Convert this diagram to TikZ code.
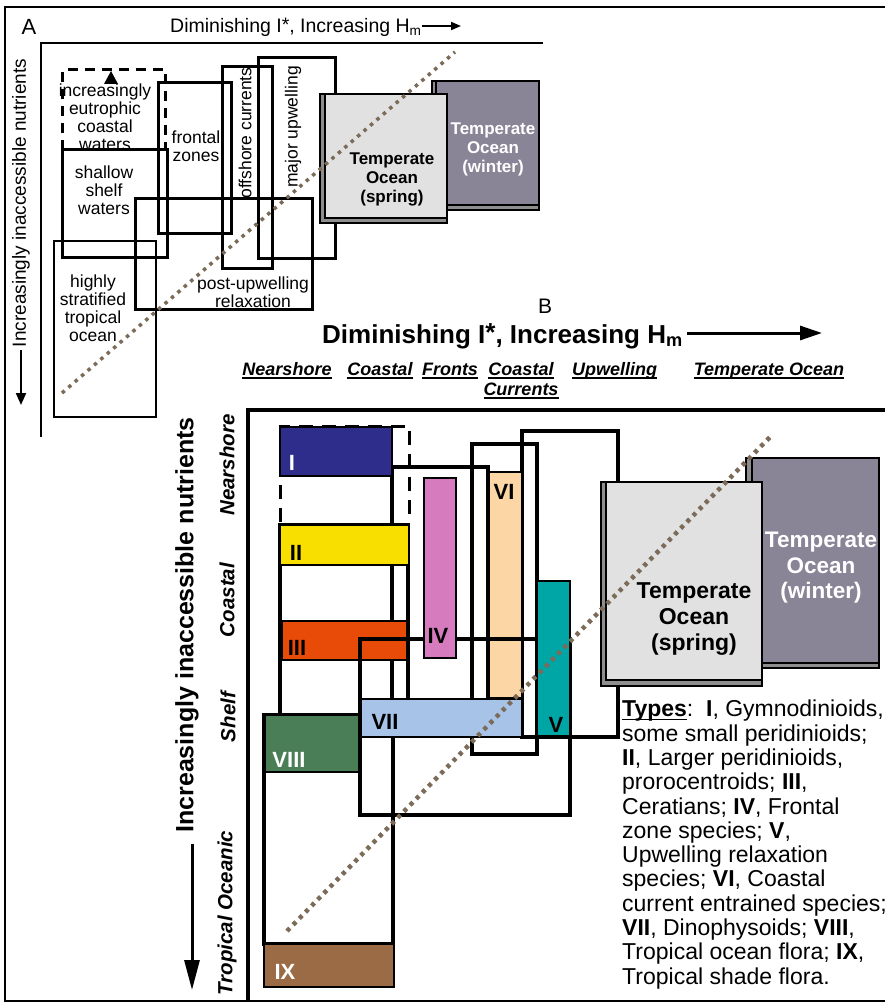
\documentclass[tikz,border=0pt]{standalone}
\usepackage{fontspec}
\setmainfont{Liberation Sans}
\usetikzlibrary{arrows.meta}

\definecolor{tyI}{HTML}{2E2D8C}
\definecolor{tyII}{HTML}{F9DF00}
\definecolor{tyIII}{HTML}{E84A08}
\definecolor{tyIV}{HTML}{D67BBD}
\definecolor{tyV}{HTML}{00A5A6}
\definecolor{tyVI}{HTML}{FDD6A5}
\definecolor{tyVII}{HTML}{A8C3E8}
\definecolor{tyVIII}{HTML}{4A7E56}
\definecolor{tyIX}{HTML}{9B6B45}
\definecolor{springface}{HTML}{E1E1E1}
\definecolor{winterface}{HTML}{8A8497}
\definecolor{slab}{HTML}{8E8E8E}
\definecolor{dotline}{HTML}{7B6B58}

\newcommand{\fsz}[2]{\fontsize{#1}{#2}\selectfont}
\newcommand{\ulbox}[2][1.8pt]{\setbox0=\hbox{#2}\rlap{\copy0}\rule[-3.5pt]{\wd0}{#1}}
\newcommand{\slabbox}[7]{%
  \filldraw[fill=slab, draw=black, line width=1.2pt] (#1,#2) rectangle (#3,#4);
  \filldraw[fill=#5, draw=black, line width=1.2pt] (#1+#6,#2) rectangle (#3,#4-#7);}

\tikzset{
  zoneA/.style={draw=black, line width=3pt},
  zoneB/.style={draw=black, line width=3.6pt},
  typebox/.style={draw=black, line width=2.2pt},
  typelab/.style={font=\bfseries\fsz{22}{22}, inner sep=0pt},
  dotA/.style={draw=dotline, line width=3.5pt, dash pattern=on 3.5pt off 5pt},
  dotB/.style={draw=dotline, line width=4.5pt, dash pattern=on 4pt off 4.8pt}
}

\begin{document}
\begin{tikzpicture}[x=1pt,y=-1pt]
\useasboundingbox (0,0) rectangle (885,1003);
\draw[line width=1.6pt] (885,7) -- (5,7) -- (5,1001) -- (885,1001);

\draw[line width=2.6pt] (543,43) -- (41,43) -- (41,437);
\foreach \xa/\ya/\xb/\yb in {62.5/150/167/257, 158/83/231/233, 222/67/272/268, 258/58/335/258, 135/198/312/309}
  \draw[zoneA] (\xa,\ya) rectangle (\xb,\yb);
\draw[line width=1.3pt] (54,241) rectangle (156,417);
\draw[zoneA, dash pattern=on 10pt off 7pt] (62.5,150) -- (62.5,70) -- (165,70) -- (165,150);
\fill (104,84) -- (111,71) -- (118,84) -- cycle;
\slabbox{432}{81}{539}{210}{winterface}{4}{5}
\slabbox{320}{94}{447}{223}{springface}{5}{5}
\draw[dotA] (62,393) -- (455,52);

\begin{scope}[every node/.style={font=\fsz{17.5}{18}, align=center, inner sep=0pt}]
\node (eutroph) at (105,117) {increasingly\\eutrophic\\coastal\\waters};
\node (shallow) at (104,190) {shallow\\shelf\\waters};
\node (frontal) at (196,146) {frontal\\zones};
\node[rotate=90] (offshore) at (245,133) {offshore currents};
\node[rotate=90] (upwell) at (293,127) {major upwelling};
\node (relax) at (253,292) {post-upwelling\\relaxation};
\node (tropic) at (93,308) {highly\\stratified\\tropical\\ocean};
\node[font=\bfseries\fsz{17}{19}] (springA) at (392,179) {Temperate\\Ocean\\(spring)};
\node[font=\bfseries\fsz{17}{19}, text=white] (winterA) at (493,149) {Temperate\\Ocean\\(winter)};
\end{scope}

\node[font=\fsz{22}{22}, inner sep=0pt] (labA) at (29,27) {A};
\node[font=\fsz{19.5}{20}, inner sep=0pt, anchor=west] (titleA) at (170,27) {Diminishing I\raisebox{1pt}{*}, Increasing H\textsubscript{m}};
\coordinate (arrA) at (461,26);
\draw[-{Triangle[length=10pt,width=8pt]}, line width=1.8pt] (titleA.east |- arrA) -- (arrA);
\node[rotate=90, font=\fsz{19}{19}, inner sep=0pt] (yaxA) at (21,203) {Increasingly inaccessible nutrients};
\coordinate (arrYA) at (21,405);
\path (yaxA.west -| arrYA) ++(0,3) coordinate (arrYAs);
\draw[-{Triangle[length=12pt,width=10pt]}, line width=2pt] (arrYAs) -- (arrYA);

\node[font=\fsz{21}{21}, inner sep=0pt] (labB) at (545,306) {B};
\node[font=\bfseries\fsz{26}{26}, inner sep=0pt, anchor=west] (titleB) at (322,336) {Diminishing I\raisebox{2pt}{*}, Increasing H\textsubscript{m}};
\coordinate (arrB) at (822,333);
\path (titleB.east |- arrB) ++(4,0) coordinate (arrBs);
\draw[-{Triangle[length=22pt,width=14pt]}, line width=3pt] (arrBs) -- (arrB);

\begin{scope}[every node/.style={font=\bfseries\itshape\fsz{18}{20}, inner sep=0pt}]
\node (hdNear) at (287,371) {\ulbox{Nearshore}};
\node (hdCoast) at (380,371) {\ulbox{Coastal}};
\node (hdFront) at (450,371) {\ulbox{Fronts}};
\node[align=center] (hdCurr) at (521,381) {\ulbox{Coastal}\\\ulbox{Currents}};
\node (hdUpw) at (614.5,371) {\ulbox{Upwelling}};
\node (hdTemp) at (769,371) {\ulbox{Temperate Ocean}};
\end{scope}

\draw[line width=4pt] (885,410) -- (248,410) -- (248,1001);
\node[rotate=90, font=\bfseries\fsz{25}{25}, inner sep=0pt] (yaxB) at (187,625) {Increasingly inaccessible nutrients};
\coordinate (arrYB) at (192,990);
\path (yaxB.west -| arrYB) ++(0,11) coordinate (arrYBs);
\draw[-{Triangle[length=30pt,width=15pt]}, line width=3pt] (arrYBs) -- (arrYB);

\begin{scope}[every node/.style={font=\bfseries\itshape\fsz{20.5}{21}, inner sep=0pt, rotate=90}]
\node (rowNear) at (227,465) {Nearshore};
\node (rowCoast) at (227,600) {Coastal};
\node (rowShelf) at (228,717) {Shelf};
\node (rowTrop) at (227,913) {Tropical Oceanic};
\end{scope}

\foreach \xa/\ya/\xb/\yb in {280/525/408/720, 392/467/488/720, 264/715/393/944, 472/444/537/754, 522/431/618/737}
  \draw[zoneB] (\xa,\ya) rectangle (\xb,\yb);
\draw[line width=3pt, dash pattern=on 14pt off 9pt] (280,522) -- (280,426) -- (409,426) -- (409,522);

\foreach \nm/\xa/\ya/\xb/\yb/\lx/\ly/\tc in {I/280/427/392/476/292/463/white, II/280/525/409/565/296/553/black,
  III/282/621/407/660/297/648/black, VI/489/472/522/698/504/492/black,
  VIII/265/715/360/772/289/760/white, IX/264/944/394/987/285/972/white} {
  \filldraw[typebox, fill=ty\nm] (\xa,\ya) rectangle (\xb,\yb);
  \node[typelab, text=\tc] (ty\nm) at (\lx,\ly) {\nm};
}
\draw[zoneB] (360,639) rectangle (570,815);
\foreach \nm/\xa/\ya/\xb/\yb/\lx/\ly/\tc in {IV/424/478/456/658/438/636/black,
  VII/361/699/522/737/385/722/black, V/537/581/570/736/556/725/black} {
  \filldraw[typebox, fill=ty\nm] (\xa,\ya) rectangle (\xb,\yb);
  \node[typelab, text=\tc] (ty\nm) at (\lx,\ly) {\nm};
}

\slabbox{746}{458}{879}{668}{winterface}{6}{5}
\slabbox{601}{482}{762}{686}{springface}{5}{6}
\node[font=\bfseries\fsz{23}{26}, inner sep=0pt, align=center] (springB) at (694,619) {Temperate\\Ocean\\(spring)};
\node[font=\bfseries\fsz{22.5}{25.5}, inner sep=0pt, align=center, text=white] (winterB) at (821,568) {Temperate\\Ocean\\(winter)};
\draw[dotB] (287,931) -- (772,435);

\node[font=\fsz{23}{24.3}, inner sep=0pt, align=left, anchor=north west] (types) at (622,700) {\ulbox[1.5pt]{\textbf{Types}}:\ \ \textbf{I}, Gymnodinioids,\\
some small peridinioids;\\
\textbf{II}, Larger peridinioids,\\
prorocentroids; \textbf{III},\\
Ceratians; \textbf{IV}, Frontal\\
zone species; \textbf{V},\\
Upwelling relaxation\\
species; \textbf{VI}, Coastal\\
current entrained species;\\
\textbf{VII}, Dinophysoids; \textbf{VIII},\\
Tropical ocean flora; \textbf{IX},\\
Tropical shade flora.};
\end{tikzpicture}
\end{document}
